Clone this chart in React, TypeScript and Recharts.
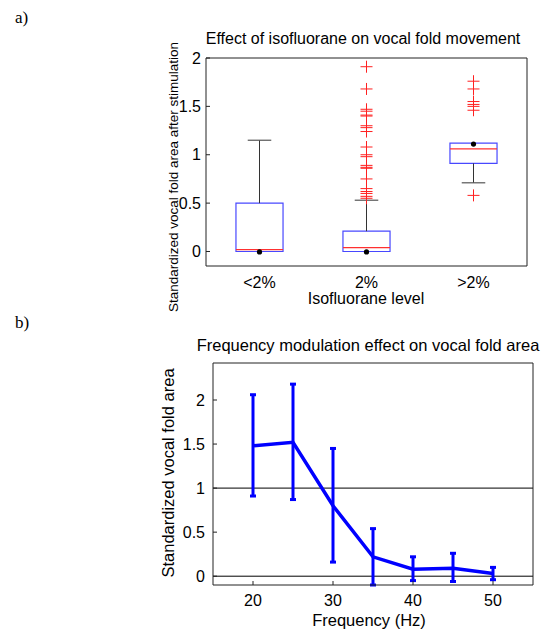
import {
  ComposedChart,
  ErrorBar,
  Line,
  ReferenceArea,
  ReferenceLine,
  Scatter,
  XAxis,
  YAxis,
} from "recharts";

// panel a) boxplot, one entry per isoflurane level
const levelLabels = ["<2%", "2%", ">2%"];
const levelPos = [1, 2, 3];
const boxQ1 = [0, 0, 0.91];
const boxMedian = [0.02, 0.04, 1.06];
const boxQ3 = [0.5, 0.21, 1.12];
const whiskerLow = [0, 0, 0.71];
const whiskerHigh = [1.15, 0.53, 1.12];
const levelDot = [-0.005, -0.005, 1.11];
const outliersMid = [
  1.91, 1.68, 1.47, 1.45, 1.41, 1.4, 1.3, 1.28, 1.24, 1.08, 1.0, 0.98, 0.89,
  0.87, 0.86, 0.75, 0.65, 0.62, 0.6, 0.57, 0.55,
];
const outliersHigh = [1.76, 1.68, 1.55, 1.52, 1.5, 1.46, 0.58];
const boxTicksY = [0, 0.5, 1, 1.5, 2];

// panel b) frequency modulation, mean with error range
const freqs = [20, 25, 30, 35, 40, 45, 50];
const areaMean = [1.48, 1.52, 0.8, 0.22, 0.08, 0.09, 0.03];
const areaLow = [0.91, 0.87, 0.16, -0.1, -0.05, -0.06, -0.04];
const areaHigh = [2.06, 2.18, 1.45, 0.54, 0.22, 0.26, 0.1];
const freqTicks = [20, 30, 40, 50];
const areaTicks = [0, 0.5, 1, 1.5, 2];

const SANS = "'Liberation Sans', Arial, sans-serif";
const SERIF = "'Liberation Serif', 'Times New Roman', serif";
const AXIS = "#222";
const HALF_BOX = 0.22;
const HALF_CAP = 0.11;

const outlierPoints = [
  ...outliersMid.map((y) => ({ x: 2, y })),
  ...outliersHigh.map((y) => ({ x: 3, y })),
];
const dotPoints = levelPos.map((x, i) => ({ x, y: levelDot[i] }));

const freqData = freqs.map((f, i) => ({
  x: f,
  mean: areaMean[i],
  err: [areaMean[i] - areaLow[i], areaHigh[i] - areaMean[i]],
}));

function PlusMark(props: any) {
  const { cx, cy } = props;
  if (cx == null || cy == null) return null;
  return (
    <path
      d={`M${cx - 6},${cy}H${cx + 6}M${cx},${cy - 6}V${cy + 6}`}
      stroke="#ff2020"
      strokeWidth={1}
      fill="none"
    />
  );
}

function DotMark(props: any) {
  const { cx, cy } = props;
  if (cx == null || cy == null) return null;
  return <circle cx={cx} cy={cy} r={2.6} fill="#000" />;
}

const tickFont = { fontSize: 16, fontFamily: SANS, fill: "#000" };

function BoxPanel() {
  return (
    <ComposedChart
      width={544}
      height={312}
      margin={{ top: 57, right: 16, bottom: 16, left: 156 }}
    >
      <XAxis
        type="number"
        dataKey="x"
        domain={[0.5, 3.5]}
        ticks={levelPos}
        allowDataOverflow
        tickFormatter={(v: number) => levelLabels[v - 1] ?? ""}
        tickLine={false}
        tickSize={0}
        tickMargin={11}
        height={30}
        stroke={AXIS}
        tick={tickFont}
        interval={0}
      />
      <XAxis
        xAxisId="top"
        orientation="top"
        type="number"
        domain={[0.5, 3.5]}
        ticks={levelPos}
        tick={false}
        tickLine={false}
        height={1}
        stroke={AXIS}
      />
      <YAxis
        type="number"
        dataKey="y"
        domain={[-0.15, 2]}
        ticks={boxTicksY}
        allowDataOverflow
        tickSize={-4}
        tickMargin={9}
        width={50}
        stroke={AXIS}
        tick={tickFont}
        interval={0}
      />
      <YAxis
        yAxisId="right"
        orientation="right"
        type="number"
        domain={[-0.15, 2]}
        ticks={boxTicksY}
        tick={false}
        tickSize={-4}
        width={1}
        stroke={AXIS}
      />
      {levelPos.map((c, i) => (
        <ReferenceArea
          key={`box${i}`}
          x1={c - HALF_BOX}
          x2={c + HALF_BOX}
          y1={boxQ1[i]}
          y2={boxQ3[i]}
          fill="#fff"
          fillOpacity={0}
          stroke="#4848ff"
          strokeWidth={1.2}
          ifOverflow="visible"
        />
      ))}
      {levelPos.map((c, i) => (
        <ReferenceLine
          key={`med${i}`}
          segment={[
            { x: c - HALF_BOX, y: boxMedian[i] },
            { x: c + HALF_BOX, y: boxMedian[i] },
          ]}
          stroke="#ff3030"
          strokeWidth={1.2}
          ifOverflow="visible"
        />
      ))}
      {levelPos.map((c, i) =>
        whiskerHigh[i] > boxQ3[i] ? (
          <ReferenceLine
            key={`wh${i}`}
            segment={[
              { x: c, y: boxQ3[i] },
              { x: c, y: whiskerHigh[i] },
            ]}
            stroke="#333"
            strokeWidth={1}
            ifOverflow="visible"
          />
        ) : null,
      )}
      {levelPos.map((c, i) =>
        whiskerHigh[i] > boxQ3[i] ? (
          <ReferenceLine
            key={`ch${i}`}
            segment={[
              { x: c - HALF_CAP, y: whiskerHigh[i] },
              { x: c + HALF_CAP, y: whiskerHigh[i] },
            ]}
            stroke="#555"
            strokeWidth={1.2}
            ifOverflow="visible"
          />
        ) : null,
      )}
      {levelPos.map((c, i) =>
        whiskerLow[i] < boxQ1[i] ? (
          <ReferenceLine
            key={`wl${i}`}
            segment={[
              { x: c, y: whiskerLow[i] },
              { x: c, y: boxQ1[i] },
            ]}
            stroke="#333"
            strokeWidth={1}
            ifOverflow="visible"
          />
        ) : null,
      )}
      {levelPos.map((c, i) =>
        whiskerLow[i] < boxQ1[i] ? (
          <ReferenceLine
            key={`cl${i}`}
            segment={[
              { x: c - HALF_CAP, y: whiskerLow[i] },
              { x: c + HALF_CAP, y: whiskerLow[i] },
            ]}
            stroke="#555"
            strokeWidth={1.2}
            ifOverflow="visible"
          />
        ) : null,
      )}
      <Scatter
        data={outlierPoints}
        shape={PlusMark}
        isAnimationActive={false}
      />
      <Scatter data={dotPoints} shape={DotMark} isAnimationActive={false} />
    </ComposedChart>
  );
}

function FreqPanel() {
  return (
    <ComposedChart
      width={544}
      height={316}
      data={freqData}
      margin={{ top: 47, right: 10, bottom: 16, left: 163 }}
    >
      <XAxis
        type="number"
        dataKey="x"
        domain={[15, 55]}
        ticks={freqTicks}
        allowDataOverflow
        tickSize={-4}
        tickMargin={14}
        height={30}
        stroke={AXIS}
        tick={tickFont}
        interval={0}
      />
      <XAxis
        xAxisId="top"
        orientation="top"
        type="number"
        domain={[15, 55]}
        ticks={freqTicks}
        tick={false}
        tickSize={-4}
        height={1}
        stroke={AXIS}
      />
      <YAxis
        type="number"
        domain={[-0.1, 2.42]}
        ticks={areaTicks}
        allowDataOverflow
        tickSize={-4}
        tickMargin={12}
        width={50}
        stroke={AXIS}
        tick={tickFont}
        interval={0}
      />
      <YAxis
        yAxisId="right"
        orientation="right"
        type="number"
        domain={[-0.1, 2.42]}
        ticks={areaTicks}
        tick={false}
        tickSize={-4}
        width={1}
        stroke={AXIS}
      />
      <ReferenceLine y={0} stroke="#000" strokeWidth={1} />
      <ReferenceLine y={1} stroke="#000" strokeWidth={1} />
      <Line
        dataKey="mean"
        stroke="#0000ff"
        strokeWidth={3.5}
        dot={false}
        activeDot={false}
        isAnimationActive={false}
      >
        <ErrorBar
          dataKey="err"
          width={3}
          stroke="#0000ff"
          strokeWidth={3}
          direction="y"
          isAnimationActive={false}
        />
      </Line>
    </ComposedChart>
  );
}

export default function App() {
  return (
    <div
      style={{
        position: "absolute",
        left: 0,
        top: 0,
        width: 544,
        height: 631,
        overflow: "hidden",
        background: "#fff",
      }}
    >
      <div style={{ position: "absolute", left: 0, top: 0 }}>
        <BoxPanel />
      </div>
      <div style={{ position: "absolute", left: 0, top: 315 }}>
        <FreqPanel />
      </div>
      <svg
        width={544}
        height={631}
        style={{ position: "absolute", left: 0, top: 0, pointerEvents: "none" }}
      >
        <text x={15} y={23} fontFamily={SERIF} fontSize={17} fill="#000">
          a)
        </text>
        <text x={15} y={328} fontFamily={SERIF} fontSize={17} fill="#000">
          b)
        </text>
        <text
          x={363}
          y={44}
          textAnchor="middle"
          fontFamily={SANS}
          fontSize={16}
          fill="#000"
        >
          Effect of isofluorane on vocal fold movement
        </text>
        <text
          x={366}
          y={304}
          textAnchor="middle"
          fontFamily={SANS}
          fontSize={16}
          fill="#000"
        >
          Isofluorane level
        </text>
        <text
          transform="translate(178,177) rotate(-90)"
          textAnchor="middle"
          fontFamily={SANS}
          fontSize={13.5}
          fill="#000"
        >
          Standardized vocal fold area after stimulation
        </text>
        <text
          x={368}
          y={351}
          textAnchor="middle"
          fontFamily={SANS}
          fontSize={16.5}
          fill="#000"
        >
          Frequency modulation effect on vocal fold area
        </text>
        <text
          x={369}
          y={626}
          textAnchor="middle"
          fontFamily={SANS}
          fontSize={16.5}
          fill="#000"
        >
          Frequency (Hz)
        </text>
        <text
          transform="translate(174,473) rotate(-90)"
          textAnchor="middle"
          fontFamily={SANS}
          fontSize={16.5}
          fill="#000"
        >
          Standardized vocal fold area
        </text>
      </svg>
    </div>
  );
}
